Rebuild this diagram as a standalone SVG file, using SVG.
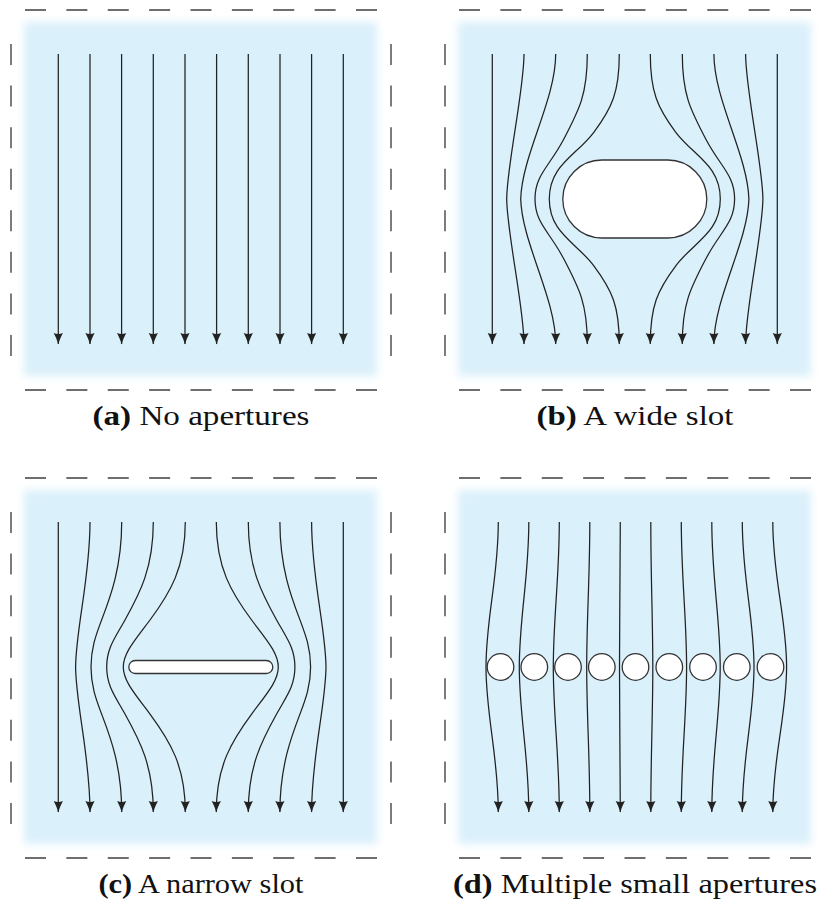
<svg xmlns="http://www.w3.org/2000/svg" width="818" height="909" viewBox="0 0 818 909">
<style>
.bg{fill:#daf0fb;filter:url(#soft)}
.fr{fill:none;stroke:#6e6e6e;stroke-width:1.8}
.fh{stroke-dasharray:21 20.375}
.fv{stroke-dasharray:21 20.57}
.s{fill:none;stroke:#222;stroke-width:1.25;marker-end:url(#ah)}
.ob{fill:#fff;stroke:#333;stroke-width:1.3}
.cap{font-family:"Liberation Serif","Times New Roman",serif;font-size:27px;fill:#111}
.b{font-weight:bold}
</style>
<defs>
<filter id="soft" x="-10%" y="-10%" width="120%" height="120%"><feGaussianBlur stdDeviation="4"/></filter>
<marker id="ah" viewBox="-12 -6 14 12" markerWidth="14" markerHeight="12" refX="0" refY="0" orient="auto" markerUnits="userSpaceOnUse">
<path d="M0.5,0 C-3.5,-1 -7.5,-2.8 -11,-4.6 C-9.6,-1.6 -9.6,1.6 -11,4.6 C-7.5,2.8 -3.5,1 0.5,0 Z" fill="#222"/>
</marker>
<g id="frame">
<rect class="bg" x="24" y="22" width="353" height="354"/>
<line class="fr fh" x1="25" y1="10" x2="377" y2="10"/>
<line class="fr fh" x1="25" y1="390" x2="377" y2="390"/>
<line class="fr fv" x1="11" y1="44" x2="11" y2="356"/>
<line class="fr fv" x1="391" y1="44" x2="391" y2="356"/>
</g>
</defs>

<g id="panel-a">
<use href="#frame"/>
<g id="connectors-a">
<path class="s" d="M58.3,54V344"/>
<path class="s" d="M90,54V344"/>
<path class="s" d="M121.6,54V344"/>
<path class="s" d="M153.3,54V344"/>
<path class="s" d="M185,54V344"/>
<path class="s" d="M216.6,54V344"/>
<path class="s" d="M248.3,54V344"/>
<path class="s" d="M280,54V344"/>
<path class="s" d="M311.6,54V344"/>
<path class="s" d="M343.3,54V344"/>
</g>
<text class="cap" x="201" y="425" text-anchor="middle" textLength="217" lengthAdjust="spacingAndGlyphs"><tspan class="b">(a)</tspan> No apertures</text>
</g>

<g id="panel-b" transform="translate(434,0)">
<use href="#frame"/>
<g id="connectors-b">
<path class="s" d="M58.3,54V344"/>
<path class="s" d="M90,54 C90,90 73,165 72.7,199 C73,233 90,308 90,344"/>
<path class="s" d="M121.7,54 C121.7,100 88,155 86.7,199 C88,243 121.7,298 121.7,344"/>
<path class="s" d="M153.3,54 C153.3,95 145,110 129.3,140 C115,167 101,175 101,199 C101,223 115,231 129.3,258 C145,288 153.3,303 153.3,344"/>
<path class="s" d="M185.3,54 C185.3,92 178,108 160,132 C142,156 115.3,165 115.3,199 C115.3,233 142,242 160,266 C178,290 185.3,306 185.3,344"/>
<path class="s" d="M216.3,54 C216.3,92 223.6,108 241.6,132 C259.6,156 286.3,165 286.3,199 C286.3,233 259.6,242 241.6,266 C223.6,290 216.3,306 216.3,344"/>
<path class="s" d="M248.3,54 C248.3,95 256.6,110 272.3,140 C286.6,167 300.6,175 300.6,199 C300.6,223 286.6,231 272.3,258 C256.6,288 248.3,303 248.3,344"/>
<path class="s" d="M279.9,54 C279.9,100 313.6,155 314.9,199 C313.6,243 279.9,298 279.9,344"/>
<path class="s" d="M311.6,54 C311.6,90 328.6,165 328.9,199 C328.6,233 311.6,308 311.6,344"/>
<path class="s" d="M343.3,54V344"/>
</g>
<g id="wide-slot"><rect class="ob" x="128.8" y="160" width="144" height="78" rx="39"/></g>
<text class="cap" x="201" y="425" text-anchor="middle" textLength="197" lengthAdjust="spacingAndGlyphs"><tspan class="b">(b)</tspan> A wide slot</text>
</g>

<g id="panel-c" transform="translate(0,468)">
<use href="#frame"/>
<g id="connectors-c">
<path class="s" d="M58.3,54V344"/>
<path class="s" d="M90,54 C90,110 76,160 75.6,199 C76,238 90,288 90,344"/>
<path class="s" d="M121.7,54 C121.7,100 110,130 101.6,152 C96,167 91,180 91,199 C91,218 96,231 101.6,246 C110,268 121.7,298 121.7,344"/>
<path class="s" d="M153.3,54 C153.3,100 140,125 125,152 C115,170 106.7,180 106.7,199 C106.7,218 115,228 125,246 C140,273 153.3,298 153.3,344"/>
<path class="s" d="M185.3,54 C185.3,100 170,125 150,152 C135,172 123.3,185 123.3,199 C123.3,213 135,226 150,246 C170,273 185.3,298 185.3,344"/>
<path class="s" d="M216.3,54 C216.3,100 231.6,125 251.6,152 C266.6,172 278.3,185 278.3,199 C278.3,213 266.6,226 251.6,246 C231.6,273 216.3,298 216.3,344"/>
<path class="s" d="M248.3,54 C248.3,100 261.6,125 276.6,152 C286.6,170 294.9,180 294.9,199 C294.9,218 286.6,228 276.6,246 C261.6,273 248.3,298 248.3,344"/>
<path class="s" d="M279.9,54 C279.9,100 291.6,130 300,152 C305.6,167 310.6,180 310.6,199 C310.6,218 305.6,231 300,246 C291.6,268 279.9,298 279.9,344"/>
<path class="s" d="M311.6,54 C311.6,110 325.6,160 326,199 C325.6,238 311.6,288 311.6,344"/>
<path class="s" d="M343.3,54V344"/>
</g>
<g id="narrow-slot"><rect class="ob" x="128.8" y="192.5" width="144" height="13" rx="6.5"/></g>
<text class="cap" x="201" y="425" text-anchor="middle" textLength="205" lengthAdjust="spacingAndGlyphs"><tspan class="b">(c)</tspan> A narrow slot</text>
</g>

<g id="panel-d" transform="translate(434,468)">
<use href="#frame"/>
<g id="connectors-d">
<path class="s" d="M64.3,54 C64.3,110 52,150 52,199 C52,248 64.3,288 64.3,344"/>
<path class="s" d="M94.8,54 C94.8,110 85.3,150 85.3,199 C85.3,248 94.8,288 94.8,344"/>
<path class="s" d="M125.3,54 C125.3,110 119.3,150 119.3,199 C119.3,248 125.3,288 125.3,344"/>
<path class="s" d="M155.8,54 C155.8,110 152.7,150 152.7,199 C152.7,248 155.8,288 155.8,344"/>
<path class="s" d="M186.3,54 C186.3,110 185.5,150 185.5,199 C185.5,248 186.3,288 186.3,344"/>
<path class="s" d="M216.8,54 C216.8,110 218.8,150 218.8,199 C218.8,248 216.8,288 216.8,344"/>
<path class="s" d="M247.3,54 C247.3,110 252.6,150 252.6,199 C252.6,248 247.3,288 247.3,344"/>
<path class="s" d="M277.8,54 C277.8,110 286.2,150 286.2,199 C286.2,248 277.8,288 277.8,344"/>
<path class="s" d="M308.3,54 C308.3,110 320,150 320,199 C320,248 308.3,288 308.3,344"/>
<path class="s" d="M338.8,54 C338.8,110 352.6,150 352.6,199 C352.6,248 338.8,288 338.8,344"/>
</g>
<g id="apertures">
<circle class="ob" cx="66.5" cy="199" r="13.3"/>
<circle class="ob" cx="100.3" cy="199" r="13.3"/>
<circle class="ob" cx="134" cy="199" r="13.3"/>
<circle class="ob" cx="167.8" cy="199" r="13.3"/>
<circle class="ob" cx="201.5" cy="199" r="13.3"/>
<circle class="ob" cx="235.3" cy="199" r="13.3"/>
<circle class="ob" cx="269" cy="199" r="13.3"/>
<circle class="ob" cx="302.8" cy="199" r="13.3"/>
<circle class="ob" cx="336.5" cy="199" r="13.3"/>
</g>
<text class="cap" x="201" y="425" text-anchor="middle" textLength="364" lengthAdjust="spacingAndGlyphs"><tspan class="b">(d)</tspan> Multiple small apertures</text>
</g>
</svg>
